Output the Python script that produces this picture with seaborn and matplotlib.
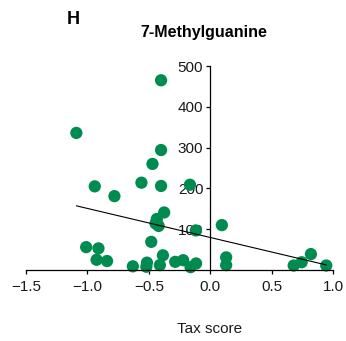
import matplotlib
matplotlib.use("Agg")
import matplotlib.pyplot as plt
import seaborn as sns
import pandas as pd

tax_score = [-1.09, -0.40, -0.40, -0.47, -0.94, -0.56, -0.40, -0.165, -0.78,
             -0.375, -0.435, -0.42, -0.445, -0.117, -0.48, -1.01, -0.91, -0.925,
             -0.84, -0.63, -0.515, -0.52, -0.385, -0.41, -0.285, -0.22, -0.16,
             -0.115, 0.095, 0.13, 0.13, 0.68, 0.745, 0.82, 0.945]
methylguanine = [336, 465, 294, 260, 205, 214, 206, 209, 181,
                 141, 125, 108, 114, 97, 69, 56, 53, 25,
                 22, 9, 18, 8, 36, 12, 20, 24, 7,
                 16, 110, 31, 12, 11, 19, 39, 11]

df = pd.DataFrame({"Tax score": tax_score, "7-Methylguanine": methylguanine})

sns.set_style("ticks")
plt.rcParams["font.family"] = ["Liberation Sans", "DejaVu Sans"]
plt.rcParams["text.color"] = "black"
plt.rcParams["axes.labelcolor"] = "black"

fig = plt.figure(figsize=(3.46, 3.41), dpi=100)
ax = fig.add_axes([26/346, (341-270)/341, 307/346, 204/341])

sns.regplot(data=df, x="Tax score", y="7-Methylguanine", ax=ax, ci=None,
            scatter_kws=dict(s=78, color="#008c50", edgecolor="none", alpha=1, clip_on=False, zorder=1),
            line_kws=dict(color="black", lw=0.8, zorder=4))

ax.set_xlim(-1.5, 1.0)
ax.set_ylim(0, 500)
ax.set_xticks([-1.5, -1.0, -0.5, 0.0, 0.5, 1.0])
ax.set_xticklabels(["\u22121.5", "\u22121.0", "\u22120.5", "0.0", "0.5", "1.0"])
ax.set_yticks([100, 200, 300, 400, 500])
ax.spines["left"].set_position(("data", 0))
ax.spines["bottom"].set_position(("data", 0))
ax.spines["right"].set_visible(False)
ax.spines["top"].set_visible(False)
for s in ("left", "bottom"):
    ax.spines[s].set_linewidth(0.9)
    ax.spines[s].set_color("black")
ax.tick_params(axis="both", labelsize=11, length=3, width=0.9, colors="black",
               labelcolor="#1a1a1a", pad=2)
ax.tick_params(axis="x", pad=4)
ax.set_xlabel("")
ax.set_ylabel("")

fig.text(204/346, 1 - 33/341, "7-Methylguanine", ha="center", va="center",
         fontsize=11.5, fontweight="bold", color="black")
fig.text(73/346, 1 - 20/341, "H", ha="center", va="center",
         fontsize=13, fontweight="bold", color="black")
fig.text(210/346, 1 - 329/341, "Tax score", ha="center", va="center",
         fontsize=11, color="#1a1a1a")

fig.savefig("out.png", dpi=100)
